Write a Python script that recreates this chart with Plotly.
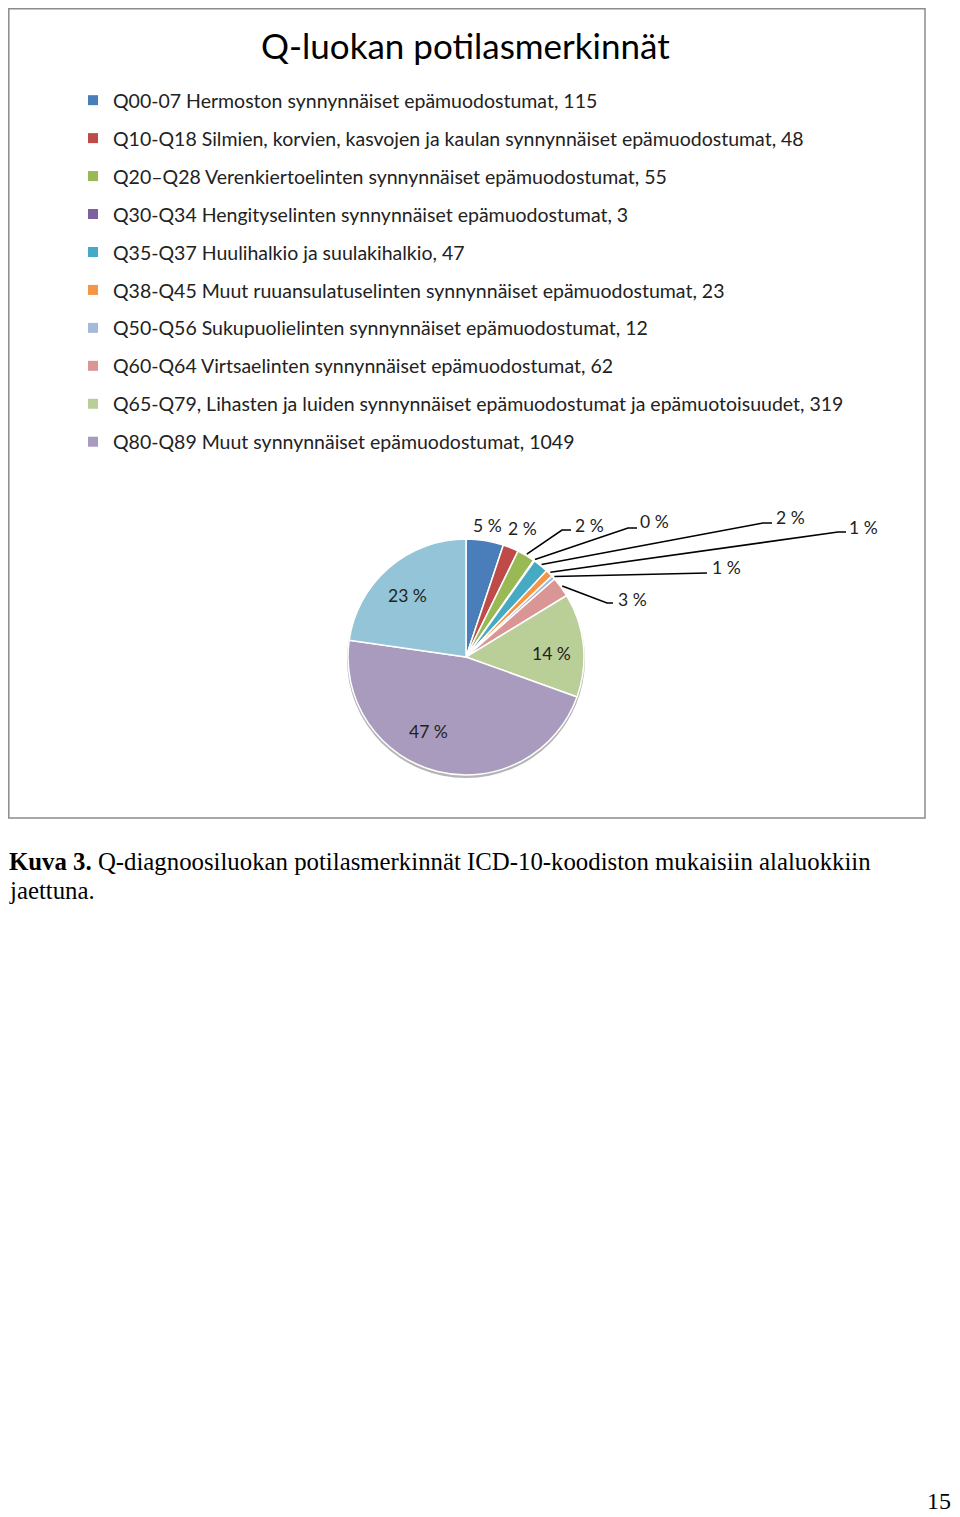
import math
import plotly.graph_objects as go

# data (the 11th slice is not in the legend)
labels = [
    "Q00-07 Hermoston synnynnäiset epämuodostumat, 115",
    "Q10-Q18 Silmien, korvien, kasvojen ja kaulan synnynnäiset epämuodostumat, 48",
    "Q20\u2013Q28 Verenkiertoelinten synnynnäiset epämuodostumat, 55",
    "Q30-Q34 Hengityselinten synnynnäiset epämuodostumat, 3",
    "Q35-Q37 Huulihalkio ja suulakihalkio, 47",
    "Q38-Q45 Muut ruuansulatuselinten synnynnäiset epämuodostumat, 23",
    "Q50-Q56 Sukupuolielinten synnynnäiset epämuodostumat, 12",
    "Q60-Q64 Virtsaelinten synnynnäiset epämuodostumat, 62",
    "Q65-Q79, Lihasten ja luiden synnynnäiset epämuodostumat ja epämuotoisuudet, 319",
    "Q80-Q89 Muut synnynnäiset epämuodostumat, 1049",
    "Q90-Q99 Muualla luokittamattomat kromosomipoikkeavuudet",
]
values = [115, 48, 55, 3, 47, 23, 12, 62, 319, 1049, 510]
in_legend = [True] * 10 + [False]
colors = ["#4A7EBB", "#BE4B48", "#98B954", "#7D60A0", "#46AAC5", "#F69546",
          "#A5B9DA", "#D99694", "#BACE98", "#A99BBE", "#93C4D7"]

# the page body has an 8px margin, so the figure is 8px smaller and the
# axes start at 8: axis units are then page pixels
OFF = 8
W, H = 960 - OFF, 1517 - OFF
CX, CY, R = 466, 657, 118   # pie centre and radius in page px


def px_x(x):
    return (x - OFF) / W


def px_y(y):
    return 1 - (y - OFF) / H


# where the percent labels go: (x, y, elbow or None)
label_pos = {
    0: (487, 525, None),
    1: (522, 528, None),
    2: (589, 525, (562, 530, 571)),
    3: (654, 521, (628, 528, 637)),
    4: (790, 517, (763, 523, 772)),
    5: (863, 527, (838, 532, 846)),
    6: (726, 567, (707, 573, 707)),
    7: (632, 599, (607, 603, 613)),
    8: (551, 653, None),
    9: (428, 731, None),
    10: (407, 595, None),
}

total = sum(values)
pct = [f"{round(100 * v / total)} %" for v in values]

fig = go.Figure()

fig.add_trace(go.Pie(
    labels=labels, values=values, sort=False, direction="clockwise", rotation=0,
    marker=dict(colors=colors, line=dict(color="white", width=1.5)),
    textinfo="none", showlegend=False, hoverinfo="label+percent",
    domain=dict(x=[px_x(CX - R), px_x(CX + R)], y=[px_y(CY + R), px_y(CY - R)]),
))

# legend entries (one group each so the rows can be spaced like the original)
for i, lab in enumerate(labels):
    if not in_legend[i]:
        continue
    fig.add_trace(go.Scatter(
        x=[None], y=[None], mode="markers", name=lab, legendgroup=f"g{i}",
        marker=dict(symbol="square", size=10, color=colors[i]),
    ))

# percent labels and leader lines
cum = 0
for i, v in enumerate(values):
    mid = (cum + v / 2) / total * 2 * math.pi
    cum += v
    sx, sy = CX + R * math.sin(mid), CY - R * math.cos(mid)
    lx, ly, elbow = label_pos[i]
    if elbow:
        ex, ey, endx = elbow
        fig.add_trace(go.Scatter(
            x=[sx + 1.5 * math.sin(mid), ex, endx], y=[sy - 1.5 * math.cos(mid), ey, ey],
            mode="lines", line=dict(color="black", width=1.6),
            showlegend=False, hoverinfo="skip",
        ))
    fig.add_annotation(x=lx, y=ly, xref="x", yref="y", text=pct[i], showarrow=False,
                       font=dict(family="Lato", size=17.5, color="#222"))

# chart frame (left/top edges sit on the figure edge) and pie shadow
fig.add_shape(type="rect", xref="x", yref="y", x0=8.8, y0=8.8, x1=925, y1=818,
              line=dict(color="#8c8c8c", width=1.5), layer="below")
fig.add_shape(type="circle", xref="x", yref="y", x0=CX - R - 1, y0=CY - R + 2,
              x1=CX + R + 1, y1=CY + R + 3, fillcolor="#b5b5b5",
              line=dict(width=0), layer="below")

fig.add_annotation(x=465, y=45, xref="x", yref="y", text="Q-luokan potilasmerkinnät",
                   showarrow=False, font=dict(family="Lato", size=35, color="black"))

caption_font = dict(family="Liberation Serif", size=24.8, color="black")
fig.add_annotation(x=8.2, y=861, xref="x", yref="y", xanchor="left", borderpad=0,
                   text="<b>Kuva 3.</b> Q-diagnoosiluokan potilasmerkinnät ICD-10-koodiston mukaisiin alaluokkiin",
                   showarrow=False, font=caption_font)
fig.add_annotation(x=8.2, y=890, xref="x", yref="y", xanchor="left", borderpad=0,
                   text="jaettuna.", showarrow=False, font=caption_font)
fig.add_annotation(x=952, y=1501, xref="x", yref="y", xanchor="right", borderpad=0,
                   text="15", showarrow=False,
                   font=dict(family="Liberation Serif", size=24, color="black"))

fig.update_layout(
    width=W, height=H, margin=dict(l=0, r=0, t=0, b=0),
    paper_bgcolor="white", plot_bgcolor="white",
    xaxis=dict(range=[OFF, 960], visible=False, fixedrange=True),
    yaxis=dict(range=[1517, OFF], visible=False, fixedrange=True),
    legend=dict(x=px_x(73), y=px_y(81), xanchor="left", yanchor="top",
                font=dict(family="Lato", size=19.5, color="#222"),
                tracegroupgap=9.6, bgcolor="rgba(0,0,0,0)"),
    showlegend=True,
)

fig.write_html("out.html")
